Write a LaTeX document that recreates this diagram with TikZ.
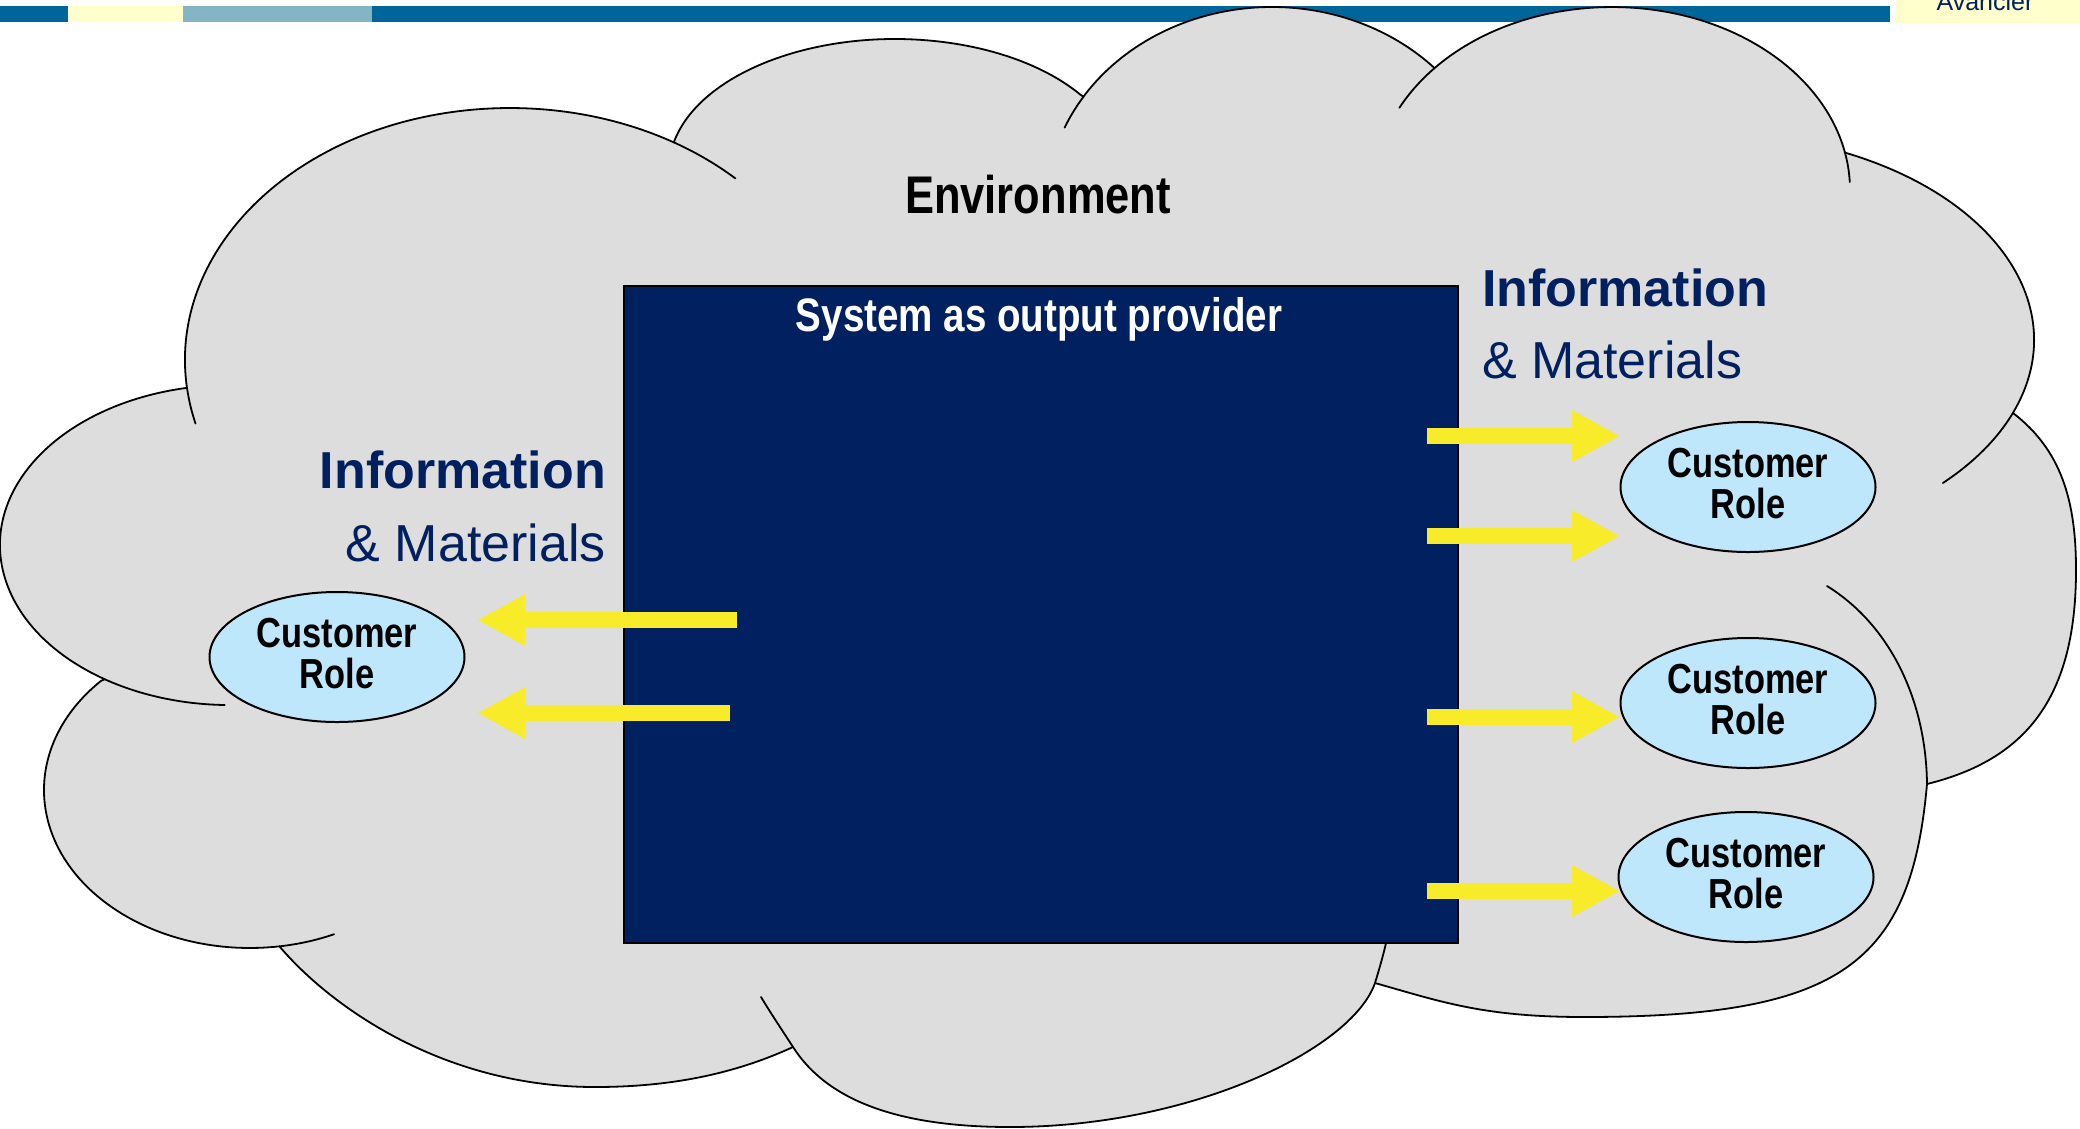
\documentclass[tikz,border=0pt]{standalone}
\usepackage{fontspec}
\setmainfont{Liberation Sans}
\newfontfamily\narrowfont[FakeStretch=0.82]{Liberation Sans}
\usetikzlibrary{arrows.meta,shapes.geometric}
\definecolor{barblue}{RGB}{0,102,153}
\definecolor{baryellow}{RGB}{255,255,204}
\definecolor{barsteel}{RGB}{132,181,198}
\definecolor{navy}{RGB}{0,32,96}
\definecolor{cloudgray}{RGB}{221,221,221}
\definecolor{rolefill}{RGB}{191,231,252}
\definecolor{arrowyellow}{RGB}{248,236,42}
\begin{document}
\begin{tikzpicture}[x=1pt,y=-1pt,
  cloudline/.style={draw=black,line width=1.8pt,line join=round,line cap=round},
  role/.style={ellipse,draw=black,line width=2pt,fill=rolefill,minimum width=255pt,minimum height=130pt,inner sep=0pt,align=center,text depth=7pt,font=\narrowfont\bfseries\fontsize{42pt}{41pt}\selectfont},
  flow/.style={draw=arrowyellow,line width=16pt,-{Triangle[length=48pt,width=48pt]}},
  infobold/.style={text=navy,inner sep=0pt,font=\bfseries\fontsize{52pt}{60pt}\selectfont},
  inforeg/.style={text=navy,inner sep=0pt,font=\fontsize{52pt}{60pt}\selectfont},
  sysbox/.style={draw=black,line width=2pt,fill=navy,minimum width=834pt,minimum height=657pt,inner sep=0pt,anchor=north west}
]
\useasboundingbox (0,0) rectangle (2080,1128);
\fill[white] (0,0) rectangle (2080,1128);
% top bar
\fill[barblue] (0,6) rectangle (68,22);
\fill[baryellow] (68,6) rectangle (183,22);
\fill[barsteel] (183,6) rectangle (372,22);
\fill[barblue] (372,6) rectangle (1890,22);
\fill[baryellow] (1896,0) rectangle (2080,23);
\node[anchor=base,text=navy,inner sep=0pt,font=\fontsize{25pt}{30pt}\selectfont] (brand) at (1985,10) {Avancier};
% cloud outline
\draw[cloudline,fill=cloudgray]
  (187.0,388.1) arc[start angle=173.6,end angle=300.2,x radius=325,y radius=252]
  -- (674.3,141.1) arc[start angle=192.4,end angle=325.3,x radius=226,y radius=130]
  -- (1083.5,96.6) arc[start angle=213.5,end angle=315.7,x radius=226,y radius=200]
  -- (1434.3,68.3) arc[start angle=221.7,end angle=348,x radius=238,y radius=183]
  -- (1844.6,152.5) arc[start angle=295.1,end angle=380.6,x radius=329,y radius=207]
  -- (2013,413) .. controls (2061,450) and (2076,500) .. (2076,570)
  .. controls (2076,700) and (2024,760) .. (1927,784)
  .. controls (1911,964) and (1841,1017) .. (1584,1017)
  .. controls (1484,1017) and (1442,1002) .. (1375,983)
  .. controls (1352,1049) and (1192,1127) .. (1010,1127)
  .. controls (891,1127) and (825,1097) .. (793,1047)
  .. controls (730,1076) and (665,1087) .. (595,1087)
  .. controls (445,1087) and (332,1008) .. (280,947)
  -- (279.7,946.3) arc[start angle=81.7,end angle=223.6,x radius=206,y radius=158]
  -- (104.7,679.2) arc[start angle=123,end angle=259.2,x radius=230,y radius=160]
  -- cycle;
% inner arcs of the cloud
\draw[cloudline] (195.5,423.5) arc[start angle=165.4,end angle=173.6,x radius=325,y radius=252];
\draw[cloudline] (673.5,142.2) arc[start angle=300.2,end angle=313.9,x radius=325,y radius=252];
\draw[cloudline] (1064.6,127.6) arc[start angle=203.4,end angle=213.5,x radius=226,y radius=200];
\draw[cloudline] (1399.4,107.8) arc[start angle=206.7,end angle=221.7,x radius=238,y radius=183];
\draw[cloudline] (1844.8,152.0) arc[start angle=348,end angle=357.5,x radius=238,y radius=183];
\draw[cloudline] (2013.0,412.8) arc[start angle=20.6,end angle=43.7,x radius=329,y radius=207];
\draw[cloudline] (1927,784) .. controls (1926,700) and (1890,625) .. (1827,586);
\draw[cloudline] (1375,983) .. controls (1379,970) and (1383,956) .. (1386,943);
\draw[cloudline] (793,1047) .. controls (782,1030) and (770,1012) .. (761,997);
\draw[cloudline] (334.1,934.2) arc[start angle=65.9,end angle=81.7,x radius=206,y radius=158];
\draw[cloudline] (224.8,705) arc[start angle=91.3,end angle=123,x radius=230,y radius=160];
% texts in cloud
\node[anchor=base,inner sep=0pt,font=\narrowfont\bfseries\fontsize{53pt}{60pt}\selectfont] (env) at (1038,213) {Environment};
\node[infobold,anchor=base east] (linfo) at (606,488) {Information};
\node[inforeg,anchor=base east] (lmat) at (606,561) {\& Materials};
\node[infobold,anchor=base west] (rinfo) at (1482,306) {Information};
\node[inforeg,anchor=base west] (rmat) at (1482,378) {\& Materials};
% system box
\node[sysbox] (sys) at (623,285) {};
\node[anchor=base,text=white,inner sep=0pt,font=\narrowfont\bfseries\fontsize{47pt}{55pt}\selectfont] (systitle) at (1039,331) {System as output provider};
% customer roles
\node[role] (cr0) at (337,657) {Customer\\Role};
\node[role] (cr1) at (1748,487) {Customer\\Role};
\node[role] (cr2) at (1748,703) {Customer\\Role};
\node[role] (cr3) at (1746,877) {Customer\\Role};
% arrows
\coordinate (la1) at (737,620); \coordinate (lb1) at (477,620);
\coordinate (la2) at (730,713); \coordinate (lb2) at (477,713);
\coordinate (ra1) at (1427,436); \coordinate (rb1) at (1620,436);
\coordinate (ra2) at (1427,536); \coordinate (rb2) at (1620,536);
\coordinate (ra3) at (1427,717); \coordinate (rb3) at (1620,717);
\coordinate (ra4) at (1427,891); \coordinate (rb4) at (1620,891);
\draw[flow] (la1) -- (lb1);
\draw[flow] (la2) -- (lb2);
\draw[flow] (ra1) -- (rb1);
\draw[flow] (ra2) -- (rb2);
\draw[flow] (ra3) -- (rb3);
\draw[flow] (ra4) -- (rb4);
\end{tikzpicture}
\end{document}
